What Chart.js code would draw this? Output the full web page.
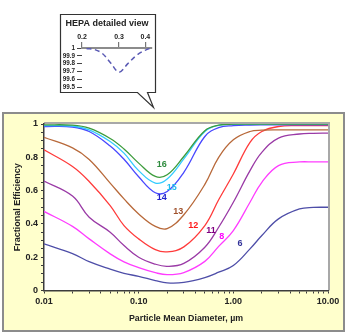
<!DOCTYPE html>
<html>
<head>
<meta charset="utf-8">
<script src="https://cdn.jsdelivr.net/npm/chart.js@4.4.1/dist/chart.umd.min.js"></script>
<style>
  html, body { margin: 0; padding: 0; background: #fff; }
  #wrap { position: relative; width: 350px; height: 336px; }
  #main { position: absolute; left: 0; top: 0; }
  #hepa { position: absolute; left: 55px; top: 8px; }
</style>
</head>
<body>
<div id="wrap">
  <canvas id="main" width="350" height="336"></canvas>
  <canvas id="hepa" width="110" height="105"></canvas>
</div>
<script>
// particle diameters (µm)
const diameters = [0.01, 0.02, 0.03, 0.05, 0.07, 0.1, 0.15, 0.2, 0.3, 0.5, 0.7, 1, 1.5, 2, 3, 5, 7, 10];

// fractional efficiency per MERV rating
const merv16 = [0.995, 0.993, 0.975, 0.913, 0.85, 0.765, 0.685, 0.695, 0.805, 0.96, 0.993, 0.999, 1, 1, 1, 1, 1, 1];
const merv15 = [0.99, 0.988, 0.965, 0.895, 0.825, 0.72, 0.645, 0.67, 0.79, 0.955, 0.992, 0.998, 0.999, 0.999, 0.999, 0.999, 0.999, 0.999];
const merv14 = [0.985, 0.982, 0.955, 0.868, 0.788, 0.683, 0.587, 0.595, 0.71, 0.925, 0.978, 0.99, 0.994, 0.995, 0.995, 0.995, 0.995, 0.995];
const merv13 = [0.92, 0.857, 0.787, 0.645, 0.55, 0.46, 0.385, 0.372, 0.455, 0.637, 0.80, 0.905, 0.955, 0.963, 0.965, 0.965, 0.965, 0.965];
const merv12 = [0.845, 0.745, 0.655, 0.51, 0.39, 0.31, 0.245, 0.232, 0.262, 0.39, 0.545, 0.70, 0.89, 0.955, 0.985, 0.99, 0.99, 0.99];
const merv11 = [0.657, 0.567, 0.44, 0.35, 0.27, 0.20, 0.158, 0.145, 0.163, 0.26, 0.38, 0.53, 0.72, 0.83, 0.915, 0.94, 0.944, 0.945];
const merv8  = [0.475, 0.385, 0.31, 0.22, 0.172, 0.137, 0.107, 0.095, 0.108, 0.175, 0.265, 0.36, 0.53, 0.65, 0.75, 0.772, 0.772, 0.772];
const merv6  = [0.28, 0.222, 0.173, 0.128, 0.103, 0.085, 0.06, 0.046, 0.049, 0.078, 0.11, 0.15, 0.25, 0.33, 0.43, 0.49, 0.499, 0.5];

const seriesNames = ['16', '15', '14', '13', '12', '11', '8', '6'];
const seriesData = [merv16, merv15, merv14, merv13, merv12, merv11, merv8, merv6];
const lineColors = ['#3C9C3C', '#33CCFF', '#4848FF', '#B8693A', '#FF3B3B', '#9A3AA6', '#FF3CFF', '#4E4EA8'];
const labelColors = ['#2E8B3E', '#22BBEE', '#2222CC', '#A0522D', '#FF1A1A', '#800080', '#FF00FF', '#333399'];
// where each series number sits (diameter, efficiency)
const labelDiam = [0.175, 0.223, 0.175, 0.262, 0.378, 0.58, 0.754, 1.175];
const labelEff  = [0.758, 0.62, 0.557, 0.475, 0.392, 0.36, 0.325, 0.284];

const xMajorTicks = [0.01, 0.1, 1, 10];
const xTickLabels = ['0.01', '0.10', '1.00', '10.00'];
const yMajorTicks = [0, 0.2, 0.4, 0.6, 0.8, 1];
const yTickLabels = ['0', '0.2', '0.4', '0.6', '0.8', '1'];

// HEPA detailed view
const hepaDiam = [0.21, 0.23, 0.25, 0.275, 0.3, 0.33, 0.365, 0.405, 0.43];
const hepaEff  = [99.995, 99.98, 99.93, 99.8, 99.69, 99.8, 99.91, 99.98, 100];
const hepaXTicks = [0.2, 0.3, 0.4];
const hepaXLabels = ['0.2', '0.3', '0.4'];
const hepaYTicks = [100, 99.9, 99.8, 99.7, 99.6, 99.5];
const hepaYLabels = ['1', '99.9', '99.8', '99.7', '99.6', '99.5'];

Chart.defaults.font.family = '"Liberation Sans", Arial, sans-serif';
Chart.defaults.color = '#222';

const axisColor = '#3C3C3C';

const xTickValues = [];
xMajorTicks.forEach(function(t, i) {
    xTickValues.push(t);
    if (i < xMajorTicks.length - 1) {
        for (let m = 2; m <= 9; m++) xTickValues.push(t * m);
    }
});
const yTickValues = [];
for (let i = 0; i <= 20; i++) yTickValues.push(i / 20);

const panelPlugin = {
    id: 'panel',
    beforeDraw(chart) {
        const ctx = chart.ctx;
        const a = chart.chartArea;
        ctx.save();
        ctx.fillStyle = '#FFFFCC';
        ctx.fillRect(3, 113, 341, 218);
        ctx.strokeStyle = '#8C8C8C';
        ctx.lineWidth = 2;
        ctx.strokeRect(3, 113, 341, 218);
        ctx.fillStyle = '#ffffff';
        ctx.fillRect(a.left, a.top, a.right - a.left, a.bottom - a.top);
        ctx.strokeStyle = '#A8A8A8';
        ctx.lineWidth = 2;
        ctx.beginPath();
        ctx.moveTo(a.left, a.top - 1);
        ctx.lineTo(a.right + 1, a.top - 1);
        ctx.lineTo(a.right + 1, a.bottom);
        ctx.stroke();
        ctx.restore();
    },
    afterDatasetsDraw(chart) {
        const ctx = chart.ctx;
        const xs = chart.scales.x, ys = chart.scales.y;
        ctx.save();
        ctx.font = 'bold 9px "Liberation Sans", Arial, sans-serif';
        ctx.textAlign = 'center';
        ctx.textBaseline = 'middle';
        seriesNames.forEach(function(name, i) {
            ctx.fillStyle = labelColors[i];
            ctx.fillText(name, xs.getPixelForValue(labelDiam[i]), ys.getPixelForValue(labelEff[i]));
        });
        ctx.restore();
    }
};

new Chart(document.getElementById('main').getContext('2d'), {
    type: 'line',
    data: {
        labels: diameters,
        datasets: seriesData.map(function(vals, i) {
            return {
                label: seriesNames[i],
                data: vals.map(function(v, j) { return { x: diameters[j], y: v }; }),
                borderColor: lineColors[i],
                borderWidth: 1.3,
                pointRadius: 0,
                fill: false,
                tension: 0.4
            };
        })
    },
    options: {
        responsive: false,
        animation: false,
        devicePixelRatio: 1,
        layout: { padding: { left: 4, top: 124, right: 22, bottom: 4 } },
        plugins: { legend: { display: false }, tooltip: { enabled: false } },
        scales: {
            x: {
                type: 'logarithmic',
                min: 0.01,
                max: 10,
                afterBuildTicks: function(s) { s.ticks = xTickValues.map(function(v) { return { value: v }; }); },
                afterFit: function(s) { s.height = 41.5; },
                ticks: {
                    autoSkip: false,
                    maxRotation: 0,
                    padding: 3,
                    font: { size: 9, weight: 'bold' },
                    callback: function(v) {
                        const i = xMajorTicks.indexOf(v);
                        return i >= 0 ? xTickLabels[i] : '';
                    }
                },
                grid: { drawOnChartArea: false, tickLength: 3, color: axisColor },
                border: { color: axisColor, width: 1.5 },
                title: {
                    display: true,
                    text: 'Particle Mean Diameter, µm',
                    font: { size: 8.8, weight: 'bold' },
                    color: '#222',
                    padding: { top: 0, bottom: 8.6 }
                }
            },
            y: {
                min: 0,
                max: 1,
                afterBuildTicks: function(s) { s.ticks = yTickValues.map(function(v) { return { value: v }; }); },
                afterFit: function(s) { s.width = 40; },
                ticks: {
                    autoSkip: false,
                    padding: 3,
                    font: { size: 9, weight: 'bold' },
                    callback: function(v) {
                        for (let i = 0; i < yMajorTicks.length; i++) {
                            if (Math.abs(v - yMajorTicks[i]) < 1e-9) return yTickLabels[i];
                        }
                        return '';
                    }
                },
                grid: { drawOnChartArea: false, tickLength: 3, color: axisColor },
                border: { color: axisColor, width: 1.5 },
                title: {
                    display: true,
                    text: 'Fractional Efficiency',
                    font: { size: 9, weight: 'bold' },
                    color: '#222',
                    padding: { top: 8.5, bottom: 0 }
                }
            }
        }
    },
    plugins: [panelPlugin]
});

// callout box with pointer
const calloutPlugin = {
    id: 'callout',
    beforeDraw(chart) {
        const ctx = chart.ctx;
        ctx.save();
        ctx.beginPath();
        ctx.moveTo(5.5, 6.5);
        ctx.lineTo(100.5, 6.5);
        ctx.lineTo(100.5, 84.5);
        ctx.lineTo(92.5, 84.5);
        ctx.lineTo(98.5, 99.5);
        ctx.lineTo(82.5, 84.5);
        ctx.lineTo(5.5, 84.5);
        ctx.closePath();
        ctx.fillStyle = '#ffffff';
        ctx.fill();
        ctx.strokeStyle = '#333333';
        ctx.lineWidth = 1.2;
        ctx.stroke();
        ctx.fillStyle = '#222';
        ctx.font = 'bold 9px "Liberation Sans", Arial, sans-serif';
        ctx.textAlign = 'center';
        ctx.textBaseline = 'middle';
        ctx.fillText('HEPA detailed view', 52, 16);
        ctx.restore();
    }
};

new Chart(document.getElementById('hepa').getContext('2d'), {
    type: 'line',
    data: {
        datasets: [{
            label: 'HEPA',
            data: hepaDiam.map(function(d, i) { return { x: d, y: hepaEff[i] }; }),
            borderColor: '#5A5AB4',
            borderWidth: 1.5,
            borderDash: [5, 3.5],
            pointRadius: 0,
            tension: 0.35
        }]
    },
    options: {
        responsive: false,
        animation: false,
        devicePixelRatio: 1,
        layout: { padding: { left: 0, top: 0, right: 13, bottom: 26 } },
        plugins: { legend: { display: false }, tooltip: { enabled: false } },
        scales: {
            x: {
                type: 'logarithmic',
                position: 'top',
                min: 0.2,
                max: 0.43,
                afterBuildTicks: function(s) { s.ticks = hepaXTicks.map(function(v) { return { value: v }; }); },
                afterFit: function(s) { s.height = 40; },
                ticks: {
                    autoSkip: false,
                    maxRotation: 0,
                    padding: 1,
                    font: { size: 7, weight: 'bold' },
                    callback: function(v) {
                        const i = hepaXTicks.indexOf(v);
                        return i >= 0 ? hepaXLabels[i] : '';
                    }
                },
                grid: { drawOnChartArea: false, tickLength: 6, color: '#777', lineWidth: 1.2 },
                border: { color: '#8C8C8C', width: 2 }
            },
            y: {
                min: 99.5,
                max: 100,
                afterBuildTicks: function(s) { s.ticks = hepaYTicks.map(function(v) { return { value: v }; }); },
                afterFit: function(s) { s.width = 27; },
                ticks: {
                    autoSkip: false,
                    padding: 2,
                    font: { size: 6.3, weight: 'bold' },
                    callback: function(v) {
                        for (let i = 0; i < hepaYTicks.length; i++) {
                            if (Math.abs(v - hepaYTicks[i]) < 1e-9) return hepaYLabels[i];
                        }
                        return '';
                    }
                },
                grid: { drawOnChartArea: false, tickLength: 5, color: '#444', lineWidth: 1 },
                border: { display: false }
            }
        }
    },
    plugins: [calloutPlugin]
});
</script>
</body>
</html>
